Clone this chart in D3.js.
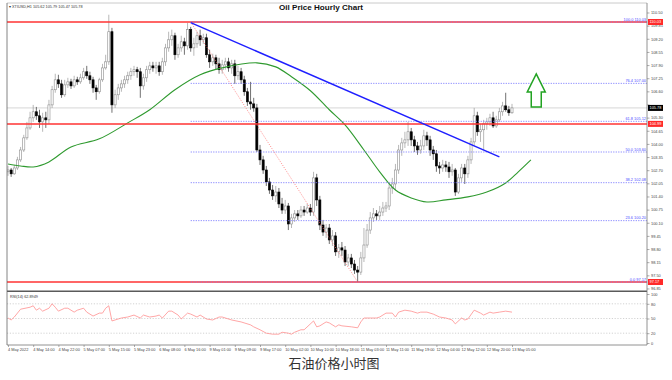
<!DOCTYPE html>
<html><head><meta charset="utf-8">
<script src="https://cdn.jsdelivr.net/npm/d3@7"></script>
<style>body{margin:0;background:#fff;} svg{display:block;}</style>
</head><body>
<svg id="c" width="672" height="380"></svg>
<script>
// ---------- DATA ----------
const opens = [102.62,102.71,102.52,102.81,103.21,103.70,104.30,104.79,105.29,105.59,
105.39,105.09,105.29,105.19,105.93,106.68,107.17,106.97,106.43,106.92,
107.07,106.87,107.17,107.07,107.27,107.57,107.37,107.17,106.77,106.58,
107.17,107.76,108.06,109.55,105.93,106.43,106.77,106.97,107.17,107.37,
107.57,107.67,107.57,106.87,107.27,107.67,107.86,107.76,107.86,107.57,
108.06,108.75,109.15,109.35,108.41,108.75,109.05,108.85,109.65,108.75,
108.95,109.35,109.15,109.25,108.41,108.06,108.26,107.96,107.67,107.91,
108.06,107.76,107.96,107.37,107.57,107.17,106.58,106.08,105.98,105.78,
103.70,103.21,102.71,102.12,101.72,101.43,101.62,101.03,100.73,100.93,
100.04,100.34,100.54,100.44,100.73,100.63,100.83,100.63,102.32,101.23,
99.99,99.64,99.84,99.25,99.45,98.66,98.86,98.75,98.16,98.36,
98.06,97.76,97.66,98.36,99.00,99.74,100.34,100.54,100.44,100.63,
100.83,100.93,101.82,102.02,102.71,103.70,104.05,104.20,104.60,104.20,
103.90,103.70,103.90,104.40,104.20,103.70,103.51,102.91,102.81,102.96,
102.86,102.62,102.71,101.62,102.32,102.81,102.52,103.21,104.10,105.39,
104.60,104.70,104.99,105.09,105.29,104.89,105.19,105.59,105.88,105.69,
105.54];
const highs = [102.91,102.81,102.96,103.36,103.85,104.45,105.09,105.59,105.93,105.83,
105.69,105.54,105.59,106.18,106.87,107.47,107.42,107.17,107.17,107.27,
107.22,107.37,107.32,107.47,107.76,107.86,107.57,107.32,106.92,107.27,
107.96,108.41,110.39,109.74,106.68,106.97,107.17,107.37,107.57,107.76,
107.86,107.81,107.76,107.47,107.86,108.06,108.06,108.06,108.06,108.26,
108.95,109.55,109.65,109.50,108.95,109.35,109.25,109.99,109.79,109.25,
109.55,109.65,109.45,109.45,108.66,108.46,108.41,108.26,108.16,108.26,
108.26,108.16,108.16,107.86,107.76,107.37,106.77,107.07,106.28,105.98,
103.95,103.41,102.91,102.32,101.97,101.92,101.82,101.33,101.23,101.08,
100.54,100.73,100.73,100.93,100.93,101.03,101.03,102.62,102.52,101.43,
100.24,100.04,100.04,99.74,99.64,99.05,99.15,98.95,98.56,98.56,
98.26,97.96,98.66,99.84,100.04,100.63,100.83,100.73,100.93,101.13,
101.13,102.12,102.32,103.01,103.95,104.30,104.60,105.09,104.79,104.40,
104.10,104.20,104.70,104.60,104.40,103.90,103.70,103.11,103.21,103.16,
103.11,103.01,102.81,102.52,103.01,103.01,103.41,104.30,105.78,105.59,
104.99,105.19,105.29,105.49,105.59,105.39,105.78,106.08,106.53,105.88,
105.98];
const lows = [102.42,102.37,102.47,102.71,103.11,103.60,104.20,104.70,105.09,105.19,
104.79,104.60,104.79,104.99,105.78,106.53,106.77,106.28,106.33,106.77,
106.72,106.77,106.92,106.97,107.17,107.22,106.97,106.53,106.18,106.48,
107.07,107.67,107.91,105.54,105.78,106.18,106.58,106.77,106.97,107.17,
107.37,107.27,106.28,106.68,107.07,107.47,107.57,107.47,107.37,107.42,
107.86,108.56,108.85,108.16,108.26,108.56,108.41,108.66,108.56,108.36,
108.75,108.85,108.95,108.26,107.76,107.86,107.67,107.47,107.47,107.67,
107.57,107.47,106.97,107.17,106.97,106.38,105.88,105.69,105.59,103.60,
102.96,102.52,101.92,101.53,101.23,101.13,100.83,100.54,100.54,99.74,
99.84,100.14,100.24,100.34,100.44,100.54,100.44,100.44,100.93,99.74,
99.45,99.35,99.05,98.95,98.46,98.36,98.46,97.96,97.96,97.86,
97.57,97.17,97.52,98.16,98.86,99.55,100.14,100.24,100.24,100.44,
100.63,100.73,101.53,101.72,102.52,103.41,103.80,103.90,103.90,103.60,
103.46,103.51,103.70,103.90,103.41,103.21,102.62,102.52,102.62,102.62,
102.32,102.42,101.43,101.53,102.12,102.02,102.32,103.01,103.90,104.40,
104.10,103.70,104.70,104.89,104.79,104.79,105.09,105.39,105.59,105.39,
105.49];
const closes = [102.71,102.52,102.81,103.21,103.70,104.30,104.79,105.29,105.59,105.39,
105.09,105.29,105.19,105.93,106.68,107.17,106.97,106.43,106.92,107.07,
106.87,107.17,107.07,107.27,107.57,107.37,107.17,106.77,106.58,107.17,
107.76,108.06,109.55,105.93,106.43,106.77,106.97,107.17,107.37,107.57,
107.67,107.57,106.87,107.27,107.67,107.86,107.76,107.86,107.57,108.06,
108.75,109.15,109.35,108.41,108.75,109.05,108.85,109.65,108.75,108.95,
109.35,109.15,109.25,108.41,108.06,108.26,107.96,107.67,107.91,108.06,
107.76,107.96,107.37,107.57,107.17,106.58,106.08,105.98,105.78,103.70,
103.21,102.71,102.12,101.72,101.43,101.62,101.03,100.73,100.93,100.04,
100.34,100.54,100.44,100.73,100.63,100.83,100.63,102.32,101.23,99.99,
99.64,99.84,99.25,99.45,98.66,98.86,98.75,98.16,98.36,98.06,
97.76,97.66,98.36,99.00,99.74,100.34,100.54,100.44,100.63,100.83,
100.93,101.82,102.02,102.71,103.70,104.05,104.20,104.60,104.20,103.90,
103.70,103.90,104.40,104.20,103.70,103.51,102.91,102.81,102.96,102.86,
102.62,102.71,101.62,102.32,102.81,102.52,103.21,104.10,105.39,104.60,
104.70,104.99,105.09,105.29,104.89,105.19,105.59,105.88,105.69,105.54,
105.78];

// moving average (green), sampled at bar indices
const maBars   = [0,4,8,13,20,29,38,45,53,61,68,79,85,90,96,102,107,113,118,123,128,133,139,146,152,158,162,166];
const maValues = [103.01,102.91,102.86,103.11,103.85,104.25,105.04,105.69,106.68,107.42,107.76,108.01,107.81,107.32,106.63,105.69,104.94,103.70,102.62,101.72,101.33,101.13,101.23,101.38,101.62,102.07,102.62,103.21];

// RSI(14)
const rsiBars   = [0,1,2,4,7,8,9,10,11,13,14,15,16,18,19,21,22,24,25,27,29,30,31,32,33,36,38,40,42,43,45,47,48,49,51,52,54,55,57,58,60,61,63,65,67,68,71,74,77,78,80,82,84,86,87,89,90,91,93,94,97,98,99,101,102,104,105,106,109,111,112,113,115,117,118,120,122,123,124,126,128,130,131,133,135,137,139,141,142,144,145,146,148,150,151,153,154,156,158,160];
const rsiValues = [51,47,53,69,73,76,67,71,65,71,80,73,65,71,71,63,67,71,63,55,61,61,71,76,45,51,53,57,51,57,53,55,57,51,65,65,57,49,61,59,53,57,49,47,53,53,47,43,37,33,27,20,18,18,22,20,18,22,27,27,45,33,35,43,41,33,37,35,33,31,43,51,51,51,53,61,61,53,63,67,65,61,63,63,59,53,51,47,39,51,47,49,67,61,57,63,61,63,65,63];

const xLabels = ["4 May 2022","4 May 14:00","4 May 22:00","5 May 07:00","5 May 15:00","5 May 23:00","6 May 08:00","6 May 16:00","9 May 01:00","9 May 09:00","9 May 17:00","10 May 02:00","10 May 10:00","10 May 18:00","11 May 03:00","11 May 11:00","11 May 19:00","12 May 04:00","12 May 12:00","12 May 20:00","13 May 05:00"];
const xLabelBars = [0,8,16,24,32,40,48,56,64,72,80,88,96,104,112,120,128,136,144,152,160];
const priceTicks = [110.50,109.85,109.20,108.55,107.90,107.25,106.60,105.95,105.30,104.65,104.00,103.35,102.70,102.05,101.40,100.75,100.10,99.45,98.80,98.15,97.50,96.85];
const rsiTicks = [100,80,50,20,0];
const rsiLevels = [80,50,20];

const fibLevels = [0,23.6,38.2,50,61.8,76.4,100];
const fibHigh = 110.03, fibLow = 97.17, fibStartBar = 58, fibEndBar = 111;
const trendBars = [58,156], trendPrices = [110.00,103.36];
const redLevels = [110.03,104.99,97.17];
const lastPrice = 105.78;
const arrowBar = 167.7, arrowTipPrice = 107.46;
const rsiLabel = "RSI(14) 62.8949";
const infoLabel = "\u25BE XTIUSD,H1  105.62 105.79 105.47 105.78";
const title = "Oil Price Hourly Chart";
const caption = "石油价格小时图";

// ---------- LAYOUT ----------
const L=7, R=647, T=3, MB=290, RT=292, RB=345;
const FONT = "'Liberation Sans', Arial, sans-serif";
const svg = d3.select("#c");
const x  = d3.scaleLinear().domain([0,160]).range([8,512]);
const y  = d3.scaleLinear().domain([fibLow,fibHigh]).range([282,22]);
const yr = d3.scaleLinear().domain([0,100]).range([343,294]);

const defs = svg.append("defs");
defs.append("clipPath").attr("id","mc").append("rect").attr("x",L).attr("y",T).attr("width",R-L).attr("height",MB-T);
defs.append("clipPath").attr("id","rc").append("rect").attr("x",L).attr("y",RT).attr("width",R-L).attr("height",RB-RT);

const main = svg.append("g").attr("clip-path","url(#mc)");

// current price line
main.append("line").attr("x1",L).attr("x2",R).attr("y1",y(lastPrice)).attr("y2",y(lastPrice))
  .attr("stroke","#d6d6d6").attr("stroke-width",1);

// candles
const idx = d3.range(closes.length);
const cg = main.append("g");
cg.selectAll("line.w").data(idx).join("line")
  .attr("x1",i=>x(i)).attr("x2",i=>x(i))
  .attr("y1",i=>y(highs[i])).attr("y2",i=>y(lows[i]))
  .attr("stroke",i=>closes[i]>=opens[i]?"#9a9a9a":"#333").attr("stroke-width",0.7);
cg.selectAll("rect").data(idx).join("rect")
  .attr("x",i=>x(i)-1.05).attr("width",2.1)
  .attr("y",i=>y(Math.max(opens[i],closes[i])))
  .attr("height",i=>Math.max(0.8, Math.abs(y(opens[i])-y(closes[i]))))
  .attr("fill",i=>closes[i]>=opens[i]?"#fff":"#000")
  .attr("stroke",i=>closes[i]>=opens[i]?"#8c8c8c":"#000").attr("stroke-width",0.6);

// MA
main.append("path").datum(maBars.map((b,i)=>[b,maValues[i]]))
  .attr("d",d3.line().x(d=>x(d[0])).y(d=>y(d[1])).curve(d3.curveCatmullRom))
  .attr("fill","none").attr("stroke","#2f9a2f").attr("stroke-width",1.1);

// red horizontal levels
main.selectAll("line.red").data(redLevels).join("line")
  .attr("x1",L).attr("x2",R).attr("y1",d=>y(d)).attr("y2",d=>y(d))
  .attr("stroke","#ff3333").attr("stroke-width",1.5);

// fibonacci
const fibPrice = l => fibLow + (fibHigh-fibLow)*l/100;
main.selectAll("line.fib").data(fibLevels).join("line")
  .attr("x1",x(fibStartBar)).attr("x2",R).attr("y1",l=>y(fibPrice(l))).attr("y2",l=>y(fibPrice(l)))
  .attr("stroke","#7a7aff").attr("stroke-width",0.9).attr("stroke-dasharray","1.2,1.3");
main.selectAll("text.fib").data(fibLevels).join("text")
  .attr("x",R-1).attr("y",l=>y(fibPrice(l))-1.2).attr("text-anchor","end")
  .attr("font-family",FONT).attr("font-size",3.9).attr("fill","#4a4aff")
  .text(l=>l.toFixed(1)+" "+fibPrice(l).toFixed(2));
main.append("line").attr("x1",x(fibStartBar)).attr("y1",y(fibHigh)).attr("x2",x(fibEndBar)).attr("y2",y(fibLow))
  .attr("stroke","#ff6b6b").attr("stroke-width",0.8).attr("stroke-dasharray","1,1.5");

// trend line
main.append("line").attr("x1",x(trendBars[0])).attr("y1",y(trendPrices[0]))
  .attr("x2",x(trendBars[1])).attr("y2",y(trendPrices[1]))
  .attr("stroke","#1f1fff").attr("stroke-width",1.4);

// green arrow
const ax = x(arrowBar), ay = y(arrowTipPrice);
main.append("path")
  .attr("d",`M${ax},${ay} L${ax+9},${ay+18} L${ax+5},${ay+18} L${ax+5},${ay+33} L${ax-5},${ay+33} L${ax-5},${ay+18} L${ax-9},${ay+18} Z`)
  .attr("fill","#fff").attr("stroke","#22a322").attr("stroke-width",1.5).attr("stroke-linejoin","miter");

// info text
svg.append("text").attr("x",L+2).attr("y",T+5).attr("font-family",FONT).attr("font-size",3.8).attr("fill","#333").text(infoLabel);

// ---------- RSI ----------
const rg = svg.append("g").attr("clip-path","url(#rc)");
rg.selectAll("line").data(rsiLevels).join("line")
  .attr("x1",L).attr("x2",R).attr("y1",d=>yr(d)).attr("y2",d=>yr(d))
  .attr("stroke","#c8c8c8").attr("stroke-width",0.8).attr("stroke-dasharray","1.2,1.6");
rg.append("path").datum(rsiBars.map((b,i)=>[b,rsiValues[i]]))
  .attr("d",d3.line().x(d=>x(d[0])).y(d=>yr(d[1])))
  .attr("fill","none").attr("stroke","#ff8f8f").attr("stroke-width",0.8);
svg.append("text").attr("x",L+3).attr("y",RT+5.5).attr("font-family",FONT).attr("font-size",3.8).attr("fill","#333").text(rsiLabel);

// ---------- FRAMES ----------
svg.append("line").attr("x1",L).attr("x2",R).attr("y1",T).attr("y2",T).attr("stroke","#bdbdbd").attr("stroke-width",0.8);
svg.append("line").attr("x1",L).attr("x2",R).attr("y1",291.2).attr("y2",291.2).attr("stroke","#5a5a5a").attr("stroke-width",1.6);
svg.append("line").attr("x1",L).attr("x2",R).attr("y1",RB).attr("y2",RB).attr("stroke","#777").attr("stroke-width",0.8);
svg.append("line").attr("x1",L).attr("x2",L).attr("y1",T).attr("y2",RB).attr("stroke","#666").attr("stroke-width",0.8);
svg.append("line").attr("x1",R).attr("x2",R).attr("y1",T).attr("y2",RB).attr("stroke","#777").attr("stroke-width",0.8);

// ---------- AXES ----------
const boxes = redLevels.map(v=>({v, c:"#ff2a2a"})).concat([{v:lastPrice, c:"#000"}]);
function styleAxis(g){
  g.select(".domain").remove();
  g.selectAll(".tick line").attr("stroke","#777").attr("stroke-width",0.6);
  g.selectAll(".tick text").attr("font-family",FONT).attr("font-size",3.9).attr("fill","#444");
}
// price tick labels hidden by a price box are not drawn (as in the terminal)
const visibleTicks = priceTicks.filter(t => !boxes.some(b => Math.abs(y(t)-y(b.v)) < 3.6));
svg.append("g").attr("transform",`translate(${R},0)`)
  .call(d3.axisRight(y).tickValues(priceTicks).tickSize(2.5).tickPadding(1.5)
        .tickFormat(t => visibleTicks.includes(t) ? d3.format(".2f")(t) : ""))
  .call(styleAxis);
svg.append("g").attr("transform",`translate(${R},0)`)
  .call(d3.axisRight(yr).tickValues(rsiTicks).tickSize(2.5).tickPadding(1.5))
  .call(styleAxis);
svg.append("g").attr("transform",`translate(0,${RB})`)
  .call(d3.axisBottom(x).tickValues(xLabelBars).tickSize(2).tickPadding(1.2).tickFormat((d,i)=>xLabels[i]))
  .call(styleAxis)
  .call(g=>g.selectAll(".tick text").attr("text-anchor","start").attr("dx",-0.5));

// price boxes on right axis
const bg = svg.append("g");
bg.selectAll("rect").data(boxes).join("rect")
  .attr("x",R+1).attr("y",d=>y(d.v)-3).attr("width",15).attr("height",6).attr("fill",d=>d.c);
bg.selectAll("text").data(boxes).join("text")
  .attr("x",R+2.5).attr("y",d=>y(d.v)+1.4).attr("font-family",FONT).attr("font-size",3.9).attr("fill","#fff")
  .text(d=>d.v.toFixed(2));

// ---------- TITLES ----------
svg.append("text").attr("x",321).attr("y",10).attr("text-anchor","middle")
  .attr("font-family",FONT).attr("font-weight","bold").attr("font-size",8.1).attr("fill","#111").text(title);
svg.append("text").attr("x",334).attr("y",367.5).attr("text-anchor","middle")
  .attr("font-family","'Noto Sans CJK SC', sans-serif").attr("font-size",13).attr("fill","#333").text(caption);
</script>
</body></html>
